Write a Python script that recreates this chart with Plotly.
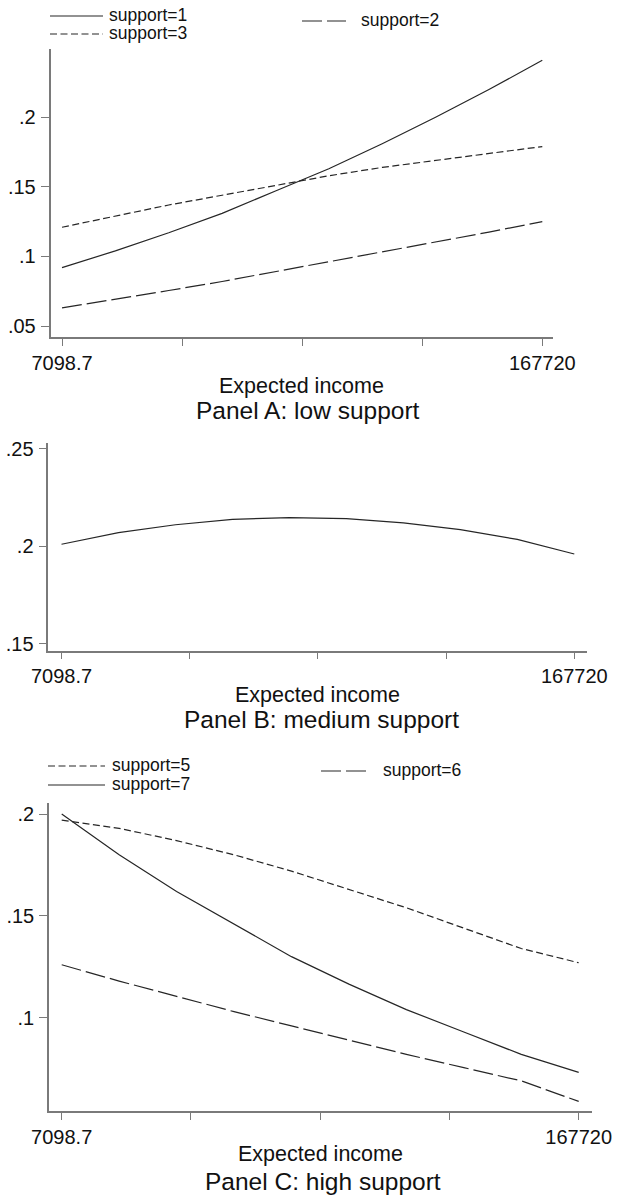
import plotly.graph_objects as go

# ---------------- data ----------------
income = [7098.7, 24945.5, 42792.3, 60639.1, 78486.0, 96332.8,
          114179.6, 132026.4, 149873.2, 167720.0]

support1 = [0.092, 0.104, 0.117, 0.131, 0.147, 0.163, 0.181, 0.200, 0.220, 0.241]
support2 = [0.063, 0.069, 0.0755, 0.082, 0.089, 0.096, 0.103, 0.110, 0.1175, 0.125]
support3 = [0.121, 0.129, 0.137, 0.144, 0.151, 0.158, 0.164, 0.169, 0.174, 0.179]
support4 = [0.201, 0.207, 0.211, 0.2138, 0.2147, 0.2142, 0.212, 0.2085, 0.2035, 0.196]
support5 = [0.197, 0.193, 0.187, 0.180, 0.172, 0.163, 0.154, 0.144, 0.134, 0.127]
support6 = [0.126, 0.118, 0.1105, 0.103, 0.096, 0.089, 0.082, 0.0755, 0.069, 0.0589]
support7 = [0.200, 0.180, 0.162, 0.146, 0.130, 0.1165, 0.104, 0.093, 0.082, 0.0732]

x_tickvals = [7098.7, 47253.9, 87409.3, 127564.7, 167720.0]
x_ticktext = ["7098.7", "", "", "", "167720"]

yticks_A = [0.05, 0.10, 0.15, 0.20]
yticklabels_A = [".05", ".1", ".15", ".2"]
yticks_B = [0.15, 0.20, 0.25]
yticklabels_B = [".15", ".2", ".25"]
yticks_C = [0.10, 0.15, 0.20]
yticklabels_C = [".1", ".15", ".2"]

x_title = "Expected income"
panel_titles = ["Panel A: low support", "Panel B: medium support", "Panel C: high support"]

# ---------------- layout helpers ----------------
W, H = 617, 1197
FONT = "Liberation Sans, Arial, sans-serif"
TXT = "#111111"
LINE_COL = "#262626"
AXIS_COL = "#7a7a7a"
SOLID = "solid"
SHORT = "7px,3.5px"
LONG = "20px,5px"


def px_x(p):
    return p / W


def px_y(p):
    return 1 - p / H


panels = [
    dict(xd=(50.5, 553.0), yd=(49.3, 337.0), xr=(3253, 171298), yr=(0.0421, 0.2489),
         yt=yticks_A, ytt=yticklabels_A, tit=386, ptit=410, pcx=308),
    dict(xd=(48.3, 587.3), yd=(442.7, 650.7), xr=(2964, 171792), yr=(0.1464, 0.2531),
         yt=yticks_B, ytt=yticklabels_B, tit=695, ptit=719, pcx=321),
    dict(xd=(49.0, 591.7), yd=(802.7, 1111.0), xr=(3153, 171759), yr=(0.0542, 0.2056),
         yt=yticks_C, ytt=yticklabels_C, tit=1154, ptit=1181, pcx=323),
]

fig = go.Figure()

series = [
    (support1, SOLID, 1), (support2, LONG, 1), (support3, SHORT, 1),
    (support4, SOLID, 2),
    (support5, SHORT, 3), (support6, LONG, 3), (support7, SOLID, 3),
]
for vals, dash, p in series:
    suffix = "" if p == 1 else str(p)
    fig.add_trace(go.Scatter(
        x=income, y=vals, mode="lines",
        line=dict(color=LINE_COL, width=1.2, dash=dash),
        xaxis="x" + suffix, yaxis="y" + suffix, showlegend=False,
        hoverinfo="skip"))

layout = dict(
    width=W, height=H,
    margin=dict(l=0, r=0, t=0, b=0),
    paper_bgcolor="white", plot_bgcolor="white",
    font=dict(family=FONT, color=TXT),
    showlegend=False,
)

annotations = []
shapes = []
for i, pnl in enumerate(panels):
    suffix = "" if i == 0 else str(i + 1)
    ya = "y" + suffix
    xa = "x" + suffix
    layout["xaxis" + suffix] = dict(
        domain=[px_x(pnl["xd"][0]), px_x(pnl["xd"][1])],
        range=list(pnl["xr"]), anchor=ya,
        tickmode="array", tickvals=x_tickvals, ticktext=x_ticktext,
        ticks="outside", ticklen=7, tickwidth=1.2, tickcolor=AXIS_COL,
        showline=True, linecolor=AXIS_COL, linewidth=1.5,
        showgrid=False, zeroline=False, automargin=False,
        tickfont=dict(size=20, family=FONT, color=TXT),
        fixedrange=True,
    )
    layout["yaxis" + suffix] = dict(
        domain=[px_y(pnl["yd"][1]), px_y(pnl["yd"][0])],
        range=list(pnl["yr"]), anchor=xa,
        tickmode="array", tickvals=pnl["yt"], ticktext=pnl["ytt"],
        ticks="outside", ticklen=8, tickwidth=1.2, tickcolor=AXIS_COL,
        showline=True, linecolor=AXIS_COL, linewidth=1.5,
        showgrid=False, zeroline=False, automargin=False,
        tickfont=dict(size=20, family=FONT, color=TXT),
        ticklabelstandoff=1,
        fixedrange=True,
    )
    cx = px_x((pnl["xd"][0] + pnl["xd"][1]) / 2)
    annotations.append(dict(text=x_title, x=cx, y=px_y(pnl["tit"]), xref="paper", yref="paper",
                            xanchor="center", yanchor="middle", showarrow=False,
                            font=dict(size=21.5, family=FONT, color=TXT)))
    annotations.append(dict(text=panel_titles[i], x=px_x(pnl["pcx"]), y=px_y(pnl["ptit"]),
                            xref="paper", yref="paper", xanchor="center", yanchor="middle",
                            showarrow=False, font=dict(size=24.5, family=FONT, color=TXT)))

# legends (sample line + label): label, dash, sample x0, sample x1, text x, row y
legend_items = [
    ("support=1", SOLID, 50, 103, 107, 16),
    ("support=3", SHORT, 50, 103, 107, 34),
    ("support=2", LONG, 302, 346, 359, 21),
    ("support=5", SHORT, 48, 105, 110, 766),
    ("support=7", SOLID, 48, 105, 110, 785),
    ("support=6", LONG, 321, 366, 381, 771),
]
for label, dash, x0, x1, tx, yy in legend_items:
    shapes.append(dict(type="line", xref="paper", yref="paper",
                       x0=px_x(x0), x1=px_x(x1), y0=px_y(yy), y1=px_y(yy),
                       line=dict(color=LINE_COL, width=1.1, dash=dash)))
    annotations.append(dict(text=label, x=px_x(tx), y=px_y(yy - 1), xref="paper",
                            yref="paper", xanchor="left", yanchor="middle", showarrow=False,
                            font=dict(size=17.5, family=FONT, color=TXT)))

layout["annotations"] = annotations
layout["shapes"] = shapes
fig.update_layout(**layout)
fig.write_html("out.html",
               config={"displayModeBar": False},
               post_script="document.body.style.margin='0';document.body.style.overflow='hidden';")
